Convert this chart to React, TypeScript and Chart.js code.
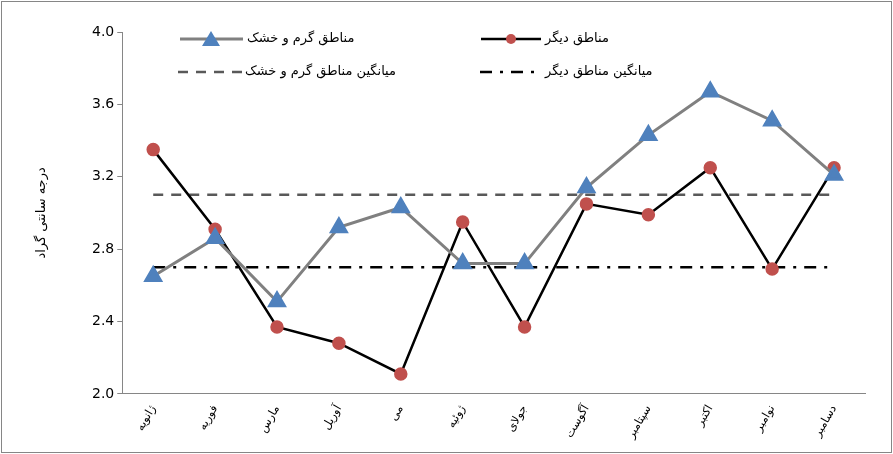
import { useEffect, useRef } from "react"
import { Chart, registerables } from "chart.js"

Chart.register(...registerables)

const months = ["ژانویه", "فوریه", "مارس", "آوریل", "می", "ژوئیه", "جولای", "آگوست", "سپتامبر", "اکتبر", "نوامبر", "دسامبر"]
const hotDry = [2.65, 2.86, 2.51, 2.92, 3.03, 2.72, 2.72, 3.14, 3.43, 3.67, 3.51, 3.21]
const others = [3.35, 2.91, 2.37, 2.28, 2.11, 2.95, 2.37, 3.05, 2.99, 3.25, 2.69, 3.25]
const hotDryMean = 3.1
const othersMean = 2.7

const FONT = "'DejaVu Sans', sans-serif"

// legend drawn inside the plot area, two columns like the original
const legendPlugin = {
  id: "insideLegend",
  afterDraw(chart: Chart) {
    const ctx = chart.ctx
    ctx.save()
    ctx.font = `13px ${FONT}`
    ctx.fillStyle = "#000"
    ctx.textBaseline = "middle"
    ctx.textAlign = "left"
    const seg = (x1: number, x2: number, y: number, color: string, w: number, dash: number[]) => {
      ctx.beginPath()
      ctx.setLineDash(dash)
      ctx.strokeStyle = color
      ctx.lineWidth = w
      ctx.moveTo(x1, y)
      ctx.lineTo(x2, y)
      ctx.stroke()
      ctx.setLineDash([])
    }
    // row 1
    seg(178, 241, 37, "#808080", 3, [])
    ctx.fillStyle = "#4F81BD"
    ctx.beginPath()
    ctx.moveTo(209, 29); ctx.lineTo(218, 44); ctx.lineTo(200, 44); ctx.closePath(); ctx.fill()
    ctx.fillStyle = "#000"
    ctx.fillText("مناطق گرم و خشک", 245, 37)
    seg(479, 539, 37, "#000", 2.5, [])
    ctx.fillStyle = "#C0504D"
    ctx.beginPath(); ctx.arc(509, 37, 5, 0, Math.PI * 2); ctx.fill()
    ctx.fillStyle = "#000"
    ctx.fillText("مناطق دیگر", 543, 37)
    // row 2
    seg(176, 241, 70, "#595959", 2.5, [10, 8])
    ctx.fillText("میانگین مناطق گرم و خشک", 243, 70)
    seg(478, 538, 70, "#000", 2.5, [12, 8, 3, 8])
    ctx.fillText("میانگین مناطق دیگر", 543, 70)
    // y axis title
    ctx.translate(40, chart.chartArea.top + (chart.chartArea.bottom - chart.chartArea.top) / 2)
    ctx.rotate(-Math.PI / 2)
    ctx.textAlign = "center"
    ctx.fillText("درجه سانتی گراد", 0, 0)
    ctx.restore()
  },
}

export default function App() {
  const chartRef = useRef<HTMLCanvasElement>(null)
  const chartInstance = useRef<Chart | null>(null)

  useEffect(() => {
    document.body.style.margin = "0"
    if (chartRef.current) {
      if (chartInstance.current) chartInstance.current.destroy()
      const ctx = chartRef.current.getContext("2d")
      if (ctx) {
        chartInstance.current = new Chart(ctx, {
          type: "line",
          data: {
            labels: months,
            datasets: [
              {
                label: "مناطق گرم و خشک",
                data: hotDry,
                borderColor: "#808080",
                borderWidth: 3,
                pointStyle: "triangle",
                pointRadius: 8.5,
                pointBackgroundColor: "#4F81BD",
                pointBorderColor: "#4F81BD",
                tension: 0,
              },
              {
                label: "مناطق دیگر",
                data: others,
                borderColor: "#000",
                borderWidth: 2.5,
                pointStyle: "circle",
                pointRadius: 5.5,
                pointBackgroundColor: "#C0504D",
                pointBorderColor: "#C0504D",
                tension: 0,
              },
              {
                label: "میانگین مناطق گرم و خشک",
                data: months.map(() => hotDryMean),
                borderColor: "#595959",
                borderWidth: 2.5,
                borderDash: [10, 8],
                pointRadius: 0,
              },
              {
                label: "میانگین مناطق دیگر",
                data: months.map(() => othersMean),
                borderColor: "#000",
                borderWidth: 2.5,
                borderDash: [12, 8, 3, 8],
                pointRadius: 0,
              },
            ],
          },
          options: {
            animation: false,
            responsive: true,
            maintainAspectRatio: false,
            layout: { padding: { top: 30, right: 26, left: 87, bottom: 8 } },
            scales: {
              x: {
                offset: true,
                grid: { display: false, drawOnChartArea: false, drawTicks: true, tickLength: 6, color: "#868686", offset: true },
                border: { color: "#868686" },
                ticks: { minRotation: 60, maxRotation: 60, color: "#000", font: { family: FONT, size: 11.5 } },
              },
              y: {
                min: 2.0,
                max: 4.0,
                grid: { drawOnChartArea: false, tickLength: 5, color: "#868686" },
                border: { color: "#868686" },
                ticks: { stepSize: 0.4, color: "#000", font: { family: FONT, size: 14 }, callback: (v) => Number(v).toFixed(1) },
              },
            },
            plugins: { legend: { display: false }, tooltip: { enabled: false } },
          },
          plugins: [legendPlugin],
        })
      }
    }
    return () => {
      if (chartInstance.current) chartInstance.current.destroy()
    }
  }, [])

  return (
    <div style={{ width: 889, height: 450, border: "1px solid #868686", margin: 1, background: "#fff" }}>
      <canvas ref={chartRef}></canvas>
    </div>
  )
}
